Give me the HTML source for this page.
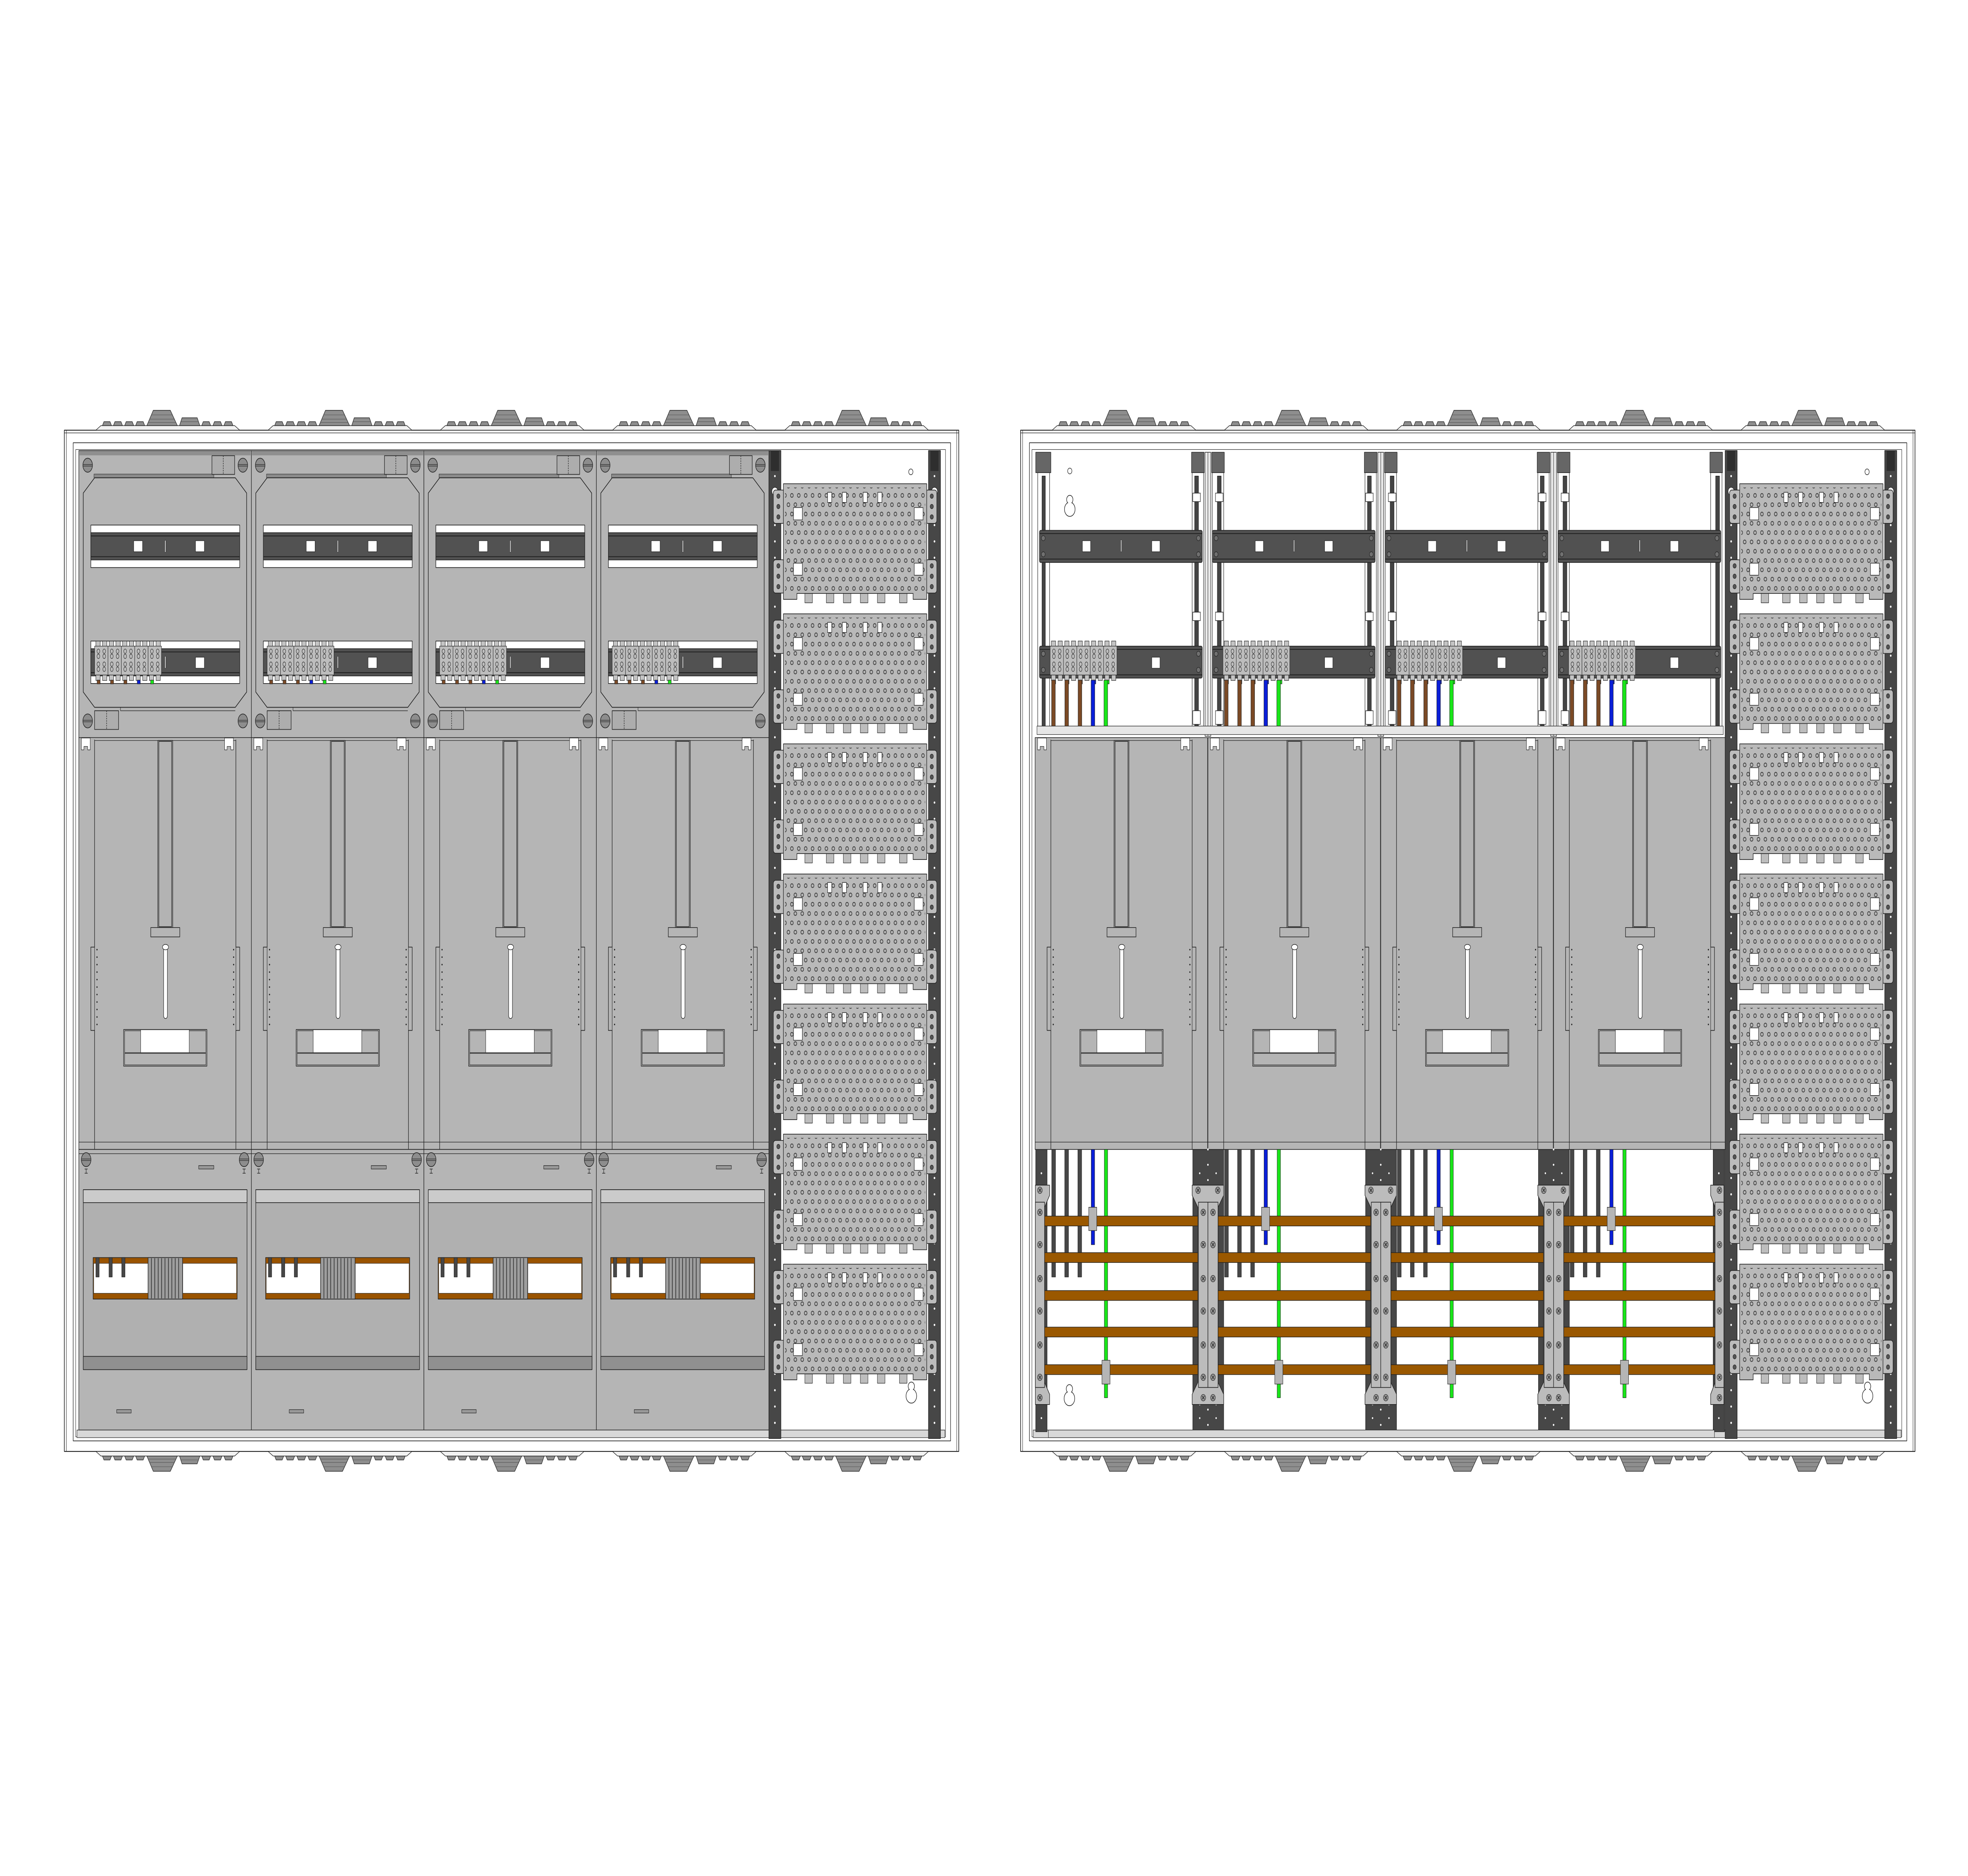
<!DOCTYPE html>
<html><head><meta charset="utf-8"><style>html,body{margin:0;padding:0;background:#fff;width:100%;height:100%;overflow:hidden}svg{display:block;width:100vw;height:100vh}</style></head>
<body>
<svg xmlns="http://www.w3.org/2000/svg" xmlns:xlink="http://www.w3.org/1999/xlink" viewBox="0 0 1560 1103.3" preserveAspectRatio="none" stroke-linejoin="round">
<defs>
<pattern id="ph" width="5.47" height="10.94" patternUnits="userSpaceOnUse">
 <circle cx="1.4" cy="1.4" r="1.15" fill="#9a9a9a" stroke="#1a1a1a" stroke-width="0.3"/>
 <circle cx="1.4" cy="1.4" r="0.5" fill="#c4c4c4"/>
 <circle cx="4.13" cy="6.87" r="1.15" fill="#9a9a9a" stroke="#1a1a1a" stroke-width="0.3"/>
 <circle cx="4.13" cy="6.87" r="0.5" fill="#c4c4c4"/>
</pattern>

<g id="gl" stroke="#222" stroke-width="0.35">
 <path d="M0,253 L4,250.3 H110 L114,253 Z" fill="#f2f2f2"/>
 <g fill="#8e8e8e">
 <path d="M5.2,250.3 L6.4,248 H11.2 L12.4,250.3Z"/>
 <path d="M13.9,250.3 L15.1,248 H19.9 L21.1,250.3Z"/>
 <path d="M22.8,250.3 L24,248 H28.8 L30,250.3Z"/>
 <path d="M31.5,250.3 L32.7,248 H37.5 L38.7,250.3Z"/>
 <path d="M40.4,250.3 L45.5,241.3 H59 L64.6,250.3Z"/>
 <path d="M66.3,250.3 L68.3,245.7 H80.3 L82.4,250.3Z"/>
 <path d="M83.9,250.3 L85.1,248 H89.8 L91,250.3Z"/>
 <path d="M92.8,250.3 L94,248 H98.8 L100,250.3Z"/>
 <path d="M101.5,250.3 L102.7,248 H107.5 L108.7,250.3Z"/>
 </g>
 <path d="M44,244 H60.5 M42.5,246.5 H62 M41.3,248.5 H63.5 M67.5,248 H81.3" fill="none" stroke="#555" stroke-width="0.25"/>
</g>

<g id="scr">
 <ellipse cx="0" cy="0" rx="3.8" ry="4.1" fill="#8d8d8d" stroke="#222" stroke-width="0.4"/>
 <path d="M-3.8,-0.4 H3.8 M-3.8,0.5 H3.8" stroke="#222" stroke-width="0.3"/>
</g>

<g id="tb" stroke="#222" stroke-width="0.3">
 <g fill="#c4c4c4">
 <rect x="2" y="0" width="3.4" height="3.2"/><rect x="7.3" y="0" width="3.4" height="3.2"/>
 <rect x="12.6" y="0" width="3.4" height="3.2"/><rect x="17.9" y="0" width="3.4" height="3.2"/>
 <rect x="23.2" y="0" width="3.4" height="3.2"/><rect x="28.5" y="0" width="3.4" height="3.2"/>
 <rect x="33.8" y="0" width="3.4" height="3.2"/><rect x="39.1" y="0" width="3.4" height="3.2"/>
 <rect x="44.4" y="0" width="3.4" height="3.2"/><rect x="49.7" y="0" width="3.4" height="3.2"/>
 <rect x="2" y="20" width="3.4" height="3.2"/><rect x="7.3" y="20" width="3.4" height="3.2"/>
 <rect x="12.6" y="20" width="3.4" height="3.2"/><rect x="17.9" y="20" width="3.4" height="3.2"/>
 <rect x="23.2" y="20" width="3.4" height="3.2"/><rect x="28.5" y="20" width="3.4" height="3.2"/>
 <rect x="33.8" y="20" width="3.4" height="3.2"/><rect x="39.1" y="20" width="3.4" height="3.2"/>
 <rect x="44.4" y="20" width="3.4" height="3.2"/><rect x="49.7" y="20" width="3.4" height="3.2"/>
 </g>
 <g fill="#bdbdbd">
 <rect x="1" y="3" width="10.6" height="17"/><rect x="11.6" y="3" width="10.6" height="17"/>
 <rect x="22.2" y="3" width="10.6" height="17"/><rect x="32.8" y="3" width="10.6" height="17"/>
 <rect x="43.4" y="3" width="10.6" height="17"/>
 </g>
 <g fill="none" stroke-width="0.28">
 <g id="tbo"><ellipse cx="4" cy="6" rx="1.1" ry="1.3"/><ellipse cx="8.6" cy="6" rx="1.1" ry="1.3"/><ellipse cx="4" cy="9" rx="1.1" ry="1.3"/><ellipse cx="8.6" cy="9" rx="1.1" ry="1.3"/><ellipse cx="4" cy="13.6" rx="1.1" ry="1.3"/><ellipse cx="8.6" cy="13.6" rx="1.1" ry="1.3"/><ellipse cx="4" cy="16.6" rx="1.1" ry="1.3"/><ellipse cx="8.6" cy="16.6" rx="1.1" ry="1.3"/></g>
 <use href="#tbo" x="10.6"/><use href="#tbo" x="21.2"/><use href="#tbo" x="31.8"/><use href="#tbo" x="42.4"/>
 </g>
 <rect x="3" y="23" width="2.4" height="2.2" fill="#7b4a26"/><rect x="13.6" y="23" width="2.4" height="2.2" fill="#7b4a26"/>
 <rect x="24.2" y="23" width="2.4" height="2.2" fill="#7b4a26"/><rect x="34.8" y="23" width="2.4" height="2.2" fill="#0a1fd8"/>
 <rect x="45.4" y="23" width="2.4" height="2.2" fill="#19e619"/>
</g>

<g id="mt" stroke="#222" stroke-width="0.4">
 <rect x="0" y="265" width="136.75" height="168.8" fill="#b5b5b5"/>
 <rect x="0.5" y="265.2" width="135.7" height="2.6" fill="#8f8f8f" stroke="none"/>
 <rect x="12" y="278.8" width="95" height="2.2" fill="#8a8a8a" stroke-width="0.25"/>
 <polygon points="12.5,281 124,281 133,290 133,407 124,416 12.5,416 3.5,407 3.5,290" fill="#b5b5b5" stroke-width="0.45"/>
 <path d="M33,416 V418 H124" fill="none" stroke-width="0.3"/>
 <use href="#scr" x="7" y="273.6"/><use href="#scr" x="130" y="273.6"/>
 <use href="#scr" x="7" y="424"/><use href="#scr" x="130" y="424"/>
 <rect x="105.5" y="268" width="18" height="11" fill="#adadad"/><path d="M114.5,268 V279" stroke-dasharray="0.8 0.6"/>
 <rect x="12.5" y="418" width="19" height="11" fill="#adadad"/><path d="M22,418 V429" stroke-dasharray="0.8 0.6"/>
 <rect x="9.5" y="308.8" width="118" height="25" fill="#fff"/>
 <rect x="9.5" y="313.3" width="118" height="16" fill="#525252"/>
 <path d="M9.5,315.2 H127.5 M9.5,327.4 H127.5" stroke-width="0.5"/>
 <rect x="43.5" y="318" width="7" height="6.5" fill="#fff" stroke-width="0.3"/>
 <rect x="92.5" y="318" width="7" height="6.5" fill="#fff" stroke-width="0.3"/>
 <rect x="68.2" y="317.8" width="0.7" height="7" fill="#fff" stroke-width="0.2"/>
 <rect x="9.5" y="377" width="118" height="25" fill="#fff"/>
 <rect x="9.5" y="381.5" width="118" height="16" fill="#525252"/>
 <path d="M9.5,383.4 H127.5 M9.5,395.6 H127.5" stroke-width="0.5"/>
 <rect x="92.5" y="386.5" width="7" height="6.5" fill="#fff" stroke-width="0.3"/>
 <rect x="68.2" y="386" width="0.7" height="7" fill="#fff" stroke-width="0.2"/>
 <use href="#tb" x="11.5" y="377"/>
</g>

<g id="mm" stroke="#222" stroke-width="0.4">
 <rect x="0" y="433.8" width="136.75" height="242.2" fill="#b5b5b5"/>
 <path d="M0,671.7 H136.75" stroke-width="0.3"/>
 <path d="M12.5,435 V557 H9.5 V606 H12.5 V676 M124.5,435 V557 H127.5 V606 H124.5 V676" fill="none"/>
 <path d="M12.5,557 V606 M124.5,557 V606" stroke-width="0.3"/>
 <path d="M12.5,435.5 H124.5" stroke-width="0.3"/>
 <rect x="62.6" y="435.5" width="11.8" height="110" fill="#b3b3b3"/>
 <rect x="63.4" y="436" width="10.2" height="109" fill="#b3b3b3"/>
 <rect x="57" y="545.5" width="23" height="5.5" fill="#b5b5b5"/>
 <rect x="67.2" y="556" width="3" height="43" rx="1.5" fill="#fff" stroke-width="0.35"/>
 <ellipse cx="68.7" cy="557" rx="2.4" ry="1.6" fill="#fff" stroke-width="0.35"/>
 <rect x="35.5" y="605.5" width="66" height="21.5" fill="#b5b5b5"/>
 <rect x="36.3" y="606.2" width="64.4" height="12.9" fill="#b5b5b5" stroke-width="0.3"/>
 <rect x="49" y="605.6" width="38.5" height="13.5" fill="#fff" stroke-width="0.3"/>
 <rect x="36.3" y="619.5" width="64.4" height="6.8" fill="none" stroke-width="0.3"/>
 <path d="M14.4,558.5 V606 M122.7,558.5 V606" stroke="#222" stroke-width="0.9" stroke-linecap="round" stroke-dasharray="0 4.4"/>
 <path d="M2,434 V441 H4 V439 H7 V441 H9 V434 Z M115.5,434 V441 H117.5 V439 H120.5 V441 H122.5 V434 Z" fill="#fff" stroke-width="0.3"/>
</g>

<g id="mb" stroke="#222" stroke-width="0.4">
 <rect x="0" y="676" width="136.75" height="165" fill="#b5b5b5"/>
 <path d="M0,678.5 H136.75" stroke-width="0.3"/>
 <use href="#scr" x="5.8" y="682"/><use href="#scr" x="131" y="682"/>
 <path d="M4.6,687.5 H7 M5.8,687.5 V690 M4.6,690 H7 M129.8,687.5 H132.2 M131,687.5 V690 M129.8,690 H132.2" stroke-width="0.35"/>
 <rect x="95" y="685.5" width="12" height="2" fill="#999" stroke-width="0.3"/>
 <rect x="3.5" y="699.7" width="129.8" height="105.8" fill="#b0b0b0"/>
 <rect x="3.5" y="699.7" width="129.8" height="7.6" fill="#cbcbcb"/>
 <rect x="3.5" y="797.7" width="129.8" height="7.8" fill="#909090"/>
 <rect x="11.3" y="739.6" width="114.2" height="24.4" fill="#9a5400"/>
 <rect x="11.8" y="743" width="43" height="17.6" fill="#fff" stroke-width="0.25"/>
 <rect x="82.4" y="743" width="42.6" height="17.6" fill="#fff" stroke-width="0.25"/>
 <rect x="54.9" y="739.6" width="27.3" height="24.4" fill="#9d9d9d"/>
 <path d="M57.5,740 V763.6 M60.2,740 V763.6 M62.9,740 V763.6 M65.6,740 V763.6 M68.3,740 V763.6 M71,740 V763.6 M73.7,740 V763.6 M76.4,740 V763.6 M79.1,740 V763.6" stroke-width="0.45"/>
 <rect x="13.5" y="739.6" width="2.6" height="11.4" fill="#474747" stroke-width="0.3"/>
 <rect x="23.9" y="739.6" width="2.6" height="11.4" fill="#474747" stroke-width="0.3"/>
 <rect x="34" y="739.6" width="2.6" height="11.4" fill="#474747" stroke-width="0.3"/>
 <rect x="30" y="829" width="11.5" height="2" fill="#999" stroke-width="0.3"/>
</g>

<g id="pl" stroke="#222" stroke-width="0.4">
 <rect x="613" y="3.7" width="9" height="19.6" rx="1.8" fill="#bcbcbc"/>
 <rect x="613" y="44.7" width="9" height="19.6" rx="1.8" fill="#bcbcbc"/>
 <rect x="733.6" y="3.7" width="9" height="19.6" rx="1.8" fill="#bcbcbc"/>
 <rect x="733.6" y="44.7" width="9" height="19.6" rx="1.8" fill="#bcbcbc"/>
 <g fill="#555" stroke-width="0.3">
 <circle cx="617" cy="7.3" r="1.3"/><circle cx="617" cy="13.4" r="1.3"/><circle cx="617" cy="19.5" r="1.3"/>
 <circle cx="617" cy="48.3" r="1.3"/><circle cx="617" cy="54.4" r="1.3"/><circle cx="617" cy="60.5" r="1.3"/>
 <circle cx="738.6" cy="7.3" r="1.3"/><circle cx="738.6" cy="13.4" r="1.3"/><circle cx="738.6" cy="19.5" r="1.3"/>
 <circle cx="738.6" cy="48.3" r="1.3"/><circle cx="738.6" cy="54.4" r="1.3"/><circle cx="738.6" cy="60.5" r="1.3"/>
 </g>
 <g fill="#bdbdbd" stroke-width="0.3">
 <rect x="638" y="63" width="6" height="7"/><rect x="655" y="63" width="6" height="7"/>
 <rect x="668.5" y="63" width="6" height="7"/><rect x="682" y="63" width="6" height="7"/>
 <rect x="695.5" y="63" width="6" height="7"/><rect x="713" y="63" width="6" height="7"/>
 </g>
 <path d="M621,0 H734.6 V68 H723.8 V64.5 H631.7 V68 H621 Z" fill="#b9b9b9"/>
 <rect x="622.3" y="2.2" width="111" height="61.8" fill="url(#ph)" stroke="none"/>
 <g fill="#fff" stroke-width="0.35">
 <rect x="629" y="14" width="7" height="7.3"/><rect x="724.7" y="14" width="7" height="7.3"/>
 <rect x="629" y="46.7" width="7" height="7.1"/><rect x="724.7" y="46.7" width="7" height="7.1"/>
 <rect x="656" y="5" width="3.3" height="6"/><rect x="667.7" y="5" width="3.3" height="6"/>
 <rect x="684.2" y="5" width="3.3" height="6"/><rect x="695.8" y="5" width="3.3" height="6"/>
 </g>
</g>

<g id="pc">
 <rect x="609.5" y="265" width="9.5" height="581" fill="#474747" stroke="#222" stroke-width="0.4"/>
 <rect x="736" y="265" width="9.5" height="581" fill="#474747" stroke="#222" stroke-width="0.4"/>
 <rect x="611" y="265" width="6.5" height="12" fill="#2e2e2e"/>
 <rect x="737.5" y="265" width="6.5" height="12" fill="#2e2e2e"/>
 <path d="M614.25,280 V846 M740.75,280 V846" stroke="#fff" stroke-width="1.3" stroke-linecap="round" stroke-dasharray="0 9.6"/>
 <circle cx="614.25" cy="289" r="2.4" fill="#fff" stroke="#222" stroke-width="0.3"/>
 <circle cx="740.75" cy="289" r="2.4" fill="#fff" stroke="#222" stroke-width="0.3"/>
 <circle cx="722" cy="277.5" r="1.7" fill="#fff" stroke="#222" stroke-width="0.35"/>
 <use href="#pl" y="284.5"/><use href="#pl" y="361"/><use href="#pl" y="437.5"/>
 <use href="#pl" y="514"/><use href="#pl" y="590.5"/><use href="#pl" y="667"/><use href="#pl" y="743.5"/>
 <g fill="#fff" stroke="#222" stroke-width="0.4">
 <circle cx="722.4" cy="821" r="4.2"/><circle cx="722.4" cy="815.3" r="2.5"/>
 </g>
 <circle cx="722.4" cy="821" r="3.9" fill="#fff"/><circle cx="722.4" cy="815.3" r="2.2" fill="#fff"/>
</g>

<g id="fr" stroke="#222" stroke-width="0.4">
 <rect x="51" y="253" width="709" height="600.6" fill="#fff" stroke-width="0.5"/>
 <rect x="58" y="260.4" width="695.5" height="587" fill="#fff"/>
 <rect x="60" y="264.4" width="689.5" height="580.6" fill="#fff" stroke-width="0.3"/>
 <path d="M52.6,253 V853.6 M758.4,253 V853.6 M51,254.6 H760" fill="none" stroke-width="0.3"/>
 <rect x="61" y="841" width="688" height="4.5" fill="#d8d8d8" stroke-width="0.3"/>
 <use href="#gl" x="76"/><use href="#gl" x="212.5"/><use href="#gl" x="349"/><use href="#gl" x="485.5"/><use href="#gl" x="622"/>
 <g transform="translate(0,1106.6) scale(1,-1)">
 <use href="#gl" x="76"/><use href="#gl" x="212.5"/><use href="#gl" x="349"/><use href="#gl" x="485.5"/><use href="#gl" x="622"/>
 </g>
</g>

<g id="rt" stroke="#222" stroke-width="0.4">
 <rect x="824" y="311.9" width="129" height="18.9" rx="1" fill="#515151"/>
 <path d="M824,313.8 H953 M824,328.8 H953" stroke-width="0.5"/>
 <rect x="858" y="318" width="6.5" height="6.5" fill="#fff" stroke-width="0.3"/>
 <rect x="913" y="318" width="6.5" height="6.5" fill="#fff" stroke-width="0.3"/>
 <rect x="888.4" y="317.5" width="0.7" height="7" fill="#fff" stroke-width="0.2"/>
 <rect x="824" y="380" width="129" height="18.8" rx="1" fill="#515151"/>
 <path d="M824,381.9 H953 M824,396.9 H953" stroke-width="0.5"/>
 <rect x="913" y="386.5" width="6.5" height="6.5" fill="#fff" stroke-width="0.3"/>
 <g fill="#707070" stroke-width="0.3">
 <circle cx="827" cy="316.5" r="1.5"/><circle cx="827" cy="326" r="1.5"/><circle cx="950" cy="316.5" r="1.5"/><circle cx="950" cy="326" r="1.5"/>
 <circle cx="827" cy="384.5" r="1.5"/><circle cx="827" cy="394" r="1.5"/><circle cx="950" cy="384.5" r="1.5"/><circle cx="950" cy="394" r="1.5"/>
 </g>
 <use href="#tb" x="831.4" y="377"/>
 <g stroke-width="0.3">
 <rect x="833.6" y="400" width="2.9" height="27" fill="#7b4a26"/>
 <rect x="844.1" y="400" width="2.9" height="27" fill="#7b4a26"/>
 <rect x="854.6" y="400" width="2.9" height="27" fill="#7b4a26"/>
 <rect x="864.9" y="400" width="2.9" height="27" fill="#0a1fd8"/>
 <rect x="875.1" y="400" width="2.9" height="27" fill="#19e619"/>
 </g>
</g>

<g id="dv" stroke="#222" stroke-width="0.35">
 <rect x="-13" y="266" width="10" height="12" fill="#666"/>
 <rect x="3" y="266" width="10" height="12" fill="#666"/>
 <rect x="-12.5" y="278" width="9" height="153" fill="#fff"/>
 <rect x="3.5" y="278" width="9" height="153" fill="#fff"/>
 <rect x="-10.5" y="280" width="3" height="150" fill="#444"/>
 <rect x="7.5" y="280" width="3" height="150" fill="#444"/>
 <rect x="-2.3" y="266" width="4.6" height="167" fill="#e8e8e8"/>
 <path d="M0,266 V433" stroke-width="0.3"/>
 <g fill="#fff"><rect x="-12" y="290" width="6" height="5"/><rect x="6" y="290" width="6" height="5"/>
 <rect x="-12" y="360" width="6" height="5"/><rect x="6" y="360" width="6" height="5"/>
 <rect x="-12" y="418" width="6" height="8"/><rect x="6" y="418" width="6" height="8"/></g>
</g>

<g id="rw" stroke="#222" stroke-width="0.3">
 <rect x="833.7" y="676" width="3" height="75" fill="#474747"/>
 <rect x="844" y="676" width="3" height="75" fill="#474747"/>
 <rect x="854.4" y="676" width="3" height="75" fill="#474747"/>
 <rect x="865" y="676" width="2.7" height="56" fill="#0a1fd8"/>
 <rect x="875.4" y="676" width="2.6" height="146" fill="#19e619"/>
</g>
<g id="rc" stroke="#222" stroke-width="0.3">
 <rect x="863" y="710" width="6.4" height="13.7" fill="#b5b5b5"/>
 <rect x="873.5" y="800" width="6.4" height="14" fill="#b5b5b5"/>
</g>
<g id="bs">
 <circle r="1.9" fill="#9a9a9a" stroke="#222" stroke-width="0.3"/>
 <path d="M-1,-1 L1,1 M-1,1 L1,-1" stroke="#222" stroke-width="0.4"/>
</g>
<g id="br2" stroke="#222" stroke-width="0.4">
 <path d="M-12.5,697 H12.5 V703 L8,710 V813 L12.5,820 V826 H-12.5 V820 L-8,813 V710 L-12.5,703 Z" fill="#bcbcbc"/>
 <rect x="-7.5" y="707" width="7.5" height="109" fill="#bcbcbc"/>
 <rect x="0" y="707" width="8" height="109" fill="#bcbcbc"/>
 <use href="#bs" x="-3.7" y="713"/><use href="#bs" x="4" y="713"/>
 <use href="#bs" x="-3.7" y="732"/><use href="#bs" x="4" y="732"/>
 <use href="#bs" x="-3.7" y="752"/><use href="#bs" x="4" y="752"/>
 <use href="#bs" x="-3.7" y="771"/><use href="#bs" x="4" y="771"/>
 <use href="#bs" x="-3.7" y="791"/><use href="#bs" x="4" y="791"/>
 <use href="#bs" x="-3.7" y="810"/><use href="#bs" x="4" y="810"/>
 <use href="#bs" x="-7.8" y="700"/><use href="#bs" x="7.8" y="700"/>
 <use href="#bs" x="-3.7" y="822"/><use href="#bs" x="4" y="822"/>
</g>
</defs>

<use href="#fr"/>
<use href="#mt" x="62.5"/><use href="#mt" x="199.25"/><use href="#mt" x="336"/><use href="#mt" x="472.75"/>
<use href="#mm" x="62.5"/><use href="#mm" x="199.25"/><use href="#mm" x="336"/><use href="#mm" x="472.75"/>
<use href="#mb" x="62.5"/><use href="#mb" x="199.25"/><use href="#mb" x="336"/><use href="#mb" x="472.75"/>
<use href="#pc"/>

<use href="#fr" x="758"/>
<circle cx="848" cy="277" r="1.7" fill="#fff" stroke="#222" stroke-width="0.35"/>
<g fill="#fff" stroke="#222" stroke-width="0.4"><circle cx="848" cy="299.5" r="4.2"/><circle cx="848" cy="293.8" r="2.5"/></g>
<circle cx="848" cy="299.5" r="3.9" fill="#fff"/><circle cx="848" cy="293.8" r="2.2" fill="#fff"/>
<g stroke="#222" stroke-width="0.35">
 <rect x="821" y="266" width="12" height="12" fill="#666"/>
 <rect x="822.6" y="278" width="9.4" height="153" fill="#fff"/>
 <rect x="826" y="280" width="2.6" height="150" fill="#444"/>
 <rect x="1355.4" y="266" width="10" height="12" fill="#666"/>
 <rect x="1356" y="278" width="9" height="153" fill="#fff"/>
 <rect x="1360" y="280" width="3" height="150" fill="#444"/>
</g>
<use href="#dv" x="957.5"/><use href="#dv" x="1094.5"/><use href="#dv" x="1231.5"/>
<use href="#rt"/><use href="#rt" x="137"/><use href="#rt" x="274"/><use href="#rt" x="411"/>
<rect x="822" y="427" width="544" height="5" fill="#e6e6e6" stroke="#222" stroke-width="0.3"/>
<use href="#mm" x="820.5"/><use href="#mm" x="957.5"/><use href="#mm" x="1094.5"/><use href="#mm" x="1231.5"/>
<g stroke="#222" stroke-width="0.35">
 <rect x="821" y="676" width="9" height="166" fill="#474747"/>
 <rect x="945.5" y="676" width="24.5" height="166" fill="#474747"/>
 <rect x="1082.5" y="676" width="24.5" height="166" fill="#474747"/>
 <rect x="1219.5" y="676" width="24.5" height="166" fill="#474747"/>
 <rect x="1358" y="676" width="9" height="166" fill="#474747"/>
</g>
<path d="M825.5,690 V840 M957.5,676 V842 M1094.5,676 V842 M1231.5,676 V842 M1362.5,690 V840" stroke="#fff" stroke-width="1.2" stroke-linecap="round" stroke-dasharray="0 9"/>
<path d="M951,690 V840 M964,690 V840 M1088,690 V840 M1101,690 V840 M1225,690 V840 M1238,690 V840" stroke="#fff" stroke-width="1.1" stroke-linecap="round" stroke-dasharray="0 8"/>
<use href="#rw"/><use href="#rw" x="137"/><use href="#rw" x="274"/><use href="#rw" x="411"/>
<g fill="#9a5800" stroke="#222" stroke-width="0.35">
 <rect x="828" y="715.2" width="532" height="5.8"/>
 <rect x="828" y="736.7" width="532" height="5.8"/>
 <rect x="828" y="759" width="532" height="5.8"/>
 <rect x="828" y="780.5" width="532" height="5.8"/>
 <rect x="828" y="802.6" width="532" height="5.8"/>
</g>
<use href="#rc"/><use href="#rc" x="137"/><use href="#rc" x="274"/><use href="#rc" x="411"/>
<g stroke="#222" stroke-width="0.4">
 <path d="M820.7,697 H832 V703 L828,710 V813 L832,820 V826 H820.7 Z" fill="#bcbcbc"/>
 <rect x="820.7" y="707" width="7.3" height="109" fill="#bcbcbc"/>
 <use href="#bs" x="824.3" y="700"/><use href="#bs" x="824.3" y="713"/><use href="#bs" x="824.3" y="732"/>
 <use href="#bs" x="824.3" y="752"/><use href="#bs" x="824.3" y="771"/><use href="#bs" x="824.3" y="791"/>
 <use href="#bs" x="824.3" y="810"/><use href="#bs" x="824.3" y="822"/>
 <path d="M1366.5,697 H1356 V703 L1359.5,710 V813 L1356,820 V826 H1366.5 Z" fill="#bcbcbc"/>
 <rect x="1359.5" y="707" width="7" height="109" fill="#bcbcbc"/>
 <use href="#bs" x="1363" y="700"/><use href="#bs" x="1363" y="713"/><use href="#bs" x="1363" y="732"/>
 <use href="#bs" x="1363" y="752"/><use href="#bs" x="1363" y="771"/><use href="#bs" x="1363" y="791"/>
 <use href="#bs" x="1363" y="810"/><use href="#bs" x="1363" y="822"/>
</g>
<use href="#br2" x="957.5"/><use href="#br2" x="1094.5"/><use href="#br2" x="1231.5"/>
<g fill="#fff" stroke="#222" stroke-width="0.4"><circle cx="847.7" cy="822.5" r="4.2"/><circle cx="847.7" cy="816.8" r="2.5"/></g>
<circle cx="847.7" cy="822.5" r="3.9" fill="#fff"/><circle cx="847.7" cy="816.8" r="2.2" fill="#fff"/>
<rect x="831" y="841" width="528" height="4.5" fill="#d8d8d8" stroke="#222" stroke-width="0.3"/>
<use href="#pc" x="758"/>
</svg>
</body></html>
